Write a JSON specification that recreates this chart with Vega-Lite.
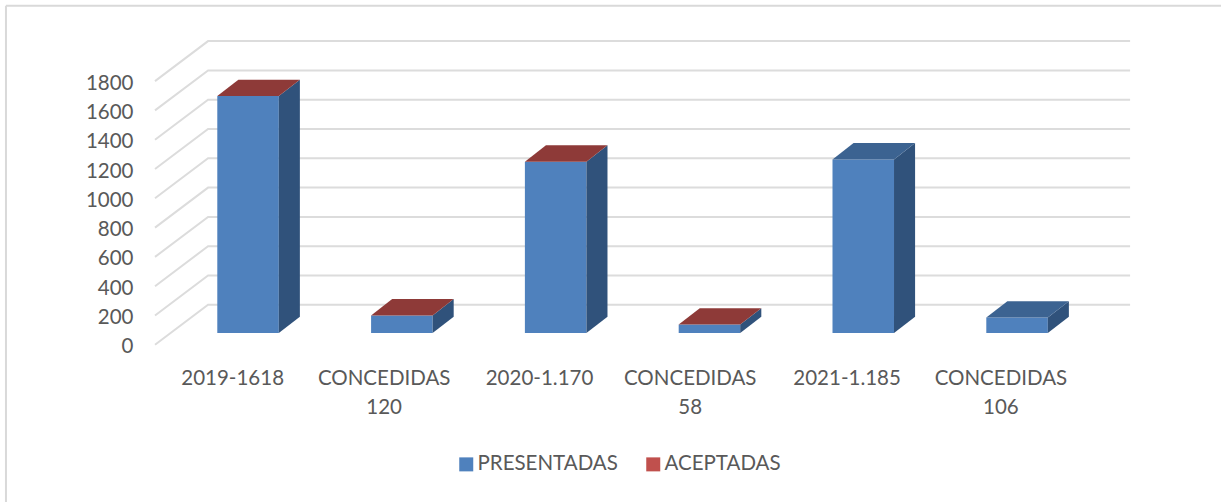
{
"$schema":"https://vega.github.io/schema/vega-lite/v6.json",
"width":1221,"height":502,"padding":0,"autosize":{"type":"none"},
"background":"white",
"config":{"view":{"stroke":null},"font":"Lato"},
"datasets":{
"border":[{"x":-0.969,"x2":-0.969,"y":-1073,"y2":2315},{"x":-0.969,"x2":6.931,"y":2315,"y2":2315}],
"grid":[
{"level":0,"x":0,"y":0},{"level":0,"x":0.345,"y":273},{"level":0,"x":6.34,"y":273},
{"level":200,"x":0,"y":200},{"level":200,"x":0.345,"y":473},{"level":200,"x":6.34,"y":473},
{"level":400,"x":0,"y":400},{"level":400,"x":0.345,"y":673},{"level":400,"x":6.34,"y":673},
{"level":600,"x":0,"y":600},{"level":600,"x":0.345,"y":873},{"level":600,"x":6.34,"y":873},
{"level":800,"x":0,"y":800},{"level":800,"x":0.345,"y":1073},{"level":800,"x":6.34,"y":1073},
{"level":1000,"x":0,"y":1000},{"level":1000,"x":0.345,"y":1273},{"level":1000,"x":6.34,"y":1273},
{"level":1200,"x":0,"y":1200},{"level":1200,"x":0.345,"y":1473},{"level":1200,"x":6.34,"y":1473},
{"level":1400,"x":0,"y":1400},{"level":1400,"x":0.345,"y":1673},{"level":1400,"x":6.34,"y":1673},
{"level":1600,"x":0,"y":1600},{"level":1600,"x":0.345,"y":1873},{"level":1600,"x":6.34,"y":1873},
{"level":1800,"x":0,"y":1800},{"level":1800,"x":0.345,"y":2073},{"level":1800,"x":6.34,"y":2073}
],
"bars":[
{"label":"2019-1618","value":1618,"series":"PRESENTADAS","x":0.405,"x2":0.805,"base":80,"top":1698},
{"label":"CONCEDIDAS 120","value":120,"series":"PRESENTADAS","x":1.405,"x2":1.805,"base":80,"top":200},
{"label":"2020-1.170","value":1170,"series":"PRESENTADAS","x":2.405,"x2":2.805,"base":80,"top":1250},
{"label":"CONCEDIDAS 58","value":58,"series":"PRESENTADAS","x":3.405,"x2":3.805,"base":80,"top":138},
{"label":"2021-1.185","value":1185,"series":"PRESENTADAS","x":4.405,"x2":4.805,"base":80,"top":1265},
{"label":"CONCEDIDAS 106","value":106,"series":"PRESENTADAS","x":5.405,"x2":5.805,"base":80,"top":186}
],
"sides":[
{"bar":"a","x":0.805,"y":80,"y2":1698},{"bar":"a","x":0.942,"y":192,"y2":1810},
{"bar":"b","x":1.805,"y":80,"y2":200},{"bar":"b","x":1.942,"y":192,"y2":312},
{"bar":"c","x":2.805,"y":80,"y2":1250},{"bar":"c","x":2.942,"y":192,"y2":1362},
{"bar":"d","x":3.805,"y":80,"y2":138},{"bar":"d","x":3.942,"y":192,"y2":250},
{"bar":"e","x":4.805,"y":80,"y2":1265},{"bar":"e","x":4.942,"y":192,"y2":1377},
{"bar":"f","x":5.805,"y":80,"y2":186},{"bar":"f","x":5.942,"y":192,"y2":298}
],
"tops":[
{"bar":"a","series":"ACEPTADAS","x":0.405,"y":1698,"y2":1698},{"bar":"a","series":"ACEPTADAS","x":0.542,"y":1698,"y2":1810},{"bar":"a","series":"ACEPTADAS","x":0.805,"y":1698,"y2":1810},{"bar":"a","series":"ACEPTADAS","x":0.942,"y":1810,"y2":1810},
{"bar":"b","series":"ACEPTADAS","x":1.405,"y":200,"y2":200},{"bar":"b","series":"ACEPTADAS","x":1.542,"y":200,"y2":312},{"bar":"b","series":"ACEPTADAS","x":1.805,"y":200,"y2":312},{"bar":"b","series":"ACEPTADAS","x":1.942,"y":312,"y2":312},
{"bar":"c","series":"ACEPTADAS","x":2.405,"y":1250,"y2":1250},{"bar":"c","series":"ACEPTADAS","x":2.542,"y":1250,"y2":1362},{"bar":"c","series":"ACEPTADAS","x":2.805,"y":1250,"y2":1362},{"bar":"c","series":"ACEPTADAS","x":2.942,"y":1362,"y2":1362},
{"bar":"d","series":"ACEPTADAS","x":3.405,"y":138,"y2":138},{"bar":"d","series":"ACEPTADAS","x":3.542,"y":138,"y2":250},{"bar":"d","series":"ACEPTADAS","x":3.805,"y":138,"y2":250},{"bar":"d","series":"ACEPTADAS","x":3.942,"y":250,"y2":250},
{"bar":"e","series":"PRESENTADAS","x":4.405,"y":1265,"y2":1265},{"bar":"e","series":"PRESENTADAS","x":4.542,"y":1265,"y2":1377},{"bar":"e","series":"PRESENTADAS","x":4.805,"y":1265,"y2":1377},{"bar":"e","series":"PRESENTADAS","x":4.942,"y":1377,"y2":1377},
{"bar":"f","series":"PRESENTADAS","x":5.405,"y":186,"y2":186},{"bar":"f","series":"PRESENTADAS","x":5.542,"y":186,"y2":298},{"bar":"f","series":"PRESENTADAS","x":5.805,"y":186,"y2":298},{"bar":"f","series":"PRESENTADAS","x":5.942,"y":298,"y2":298}
],
"cats":[
{"cat":"2019-1618","x":0.505,"y":-163},
{"cat":"CONCEDIDAS\n120","x":1.49,"y":-163},
{"cat":"2020-1.170","x":2.5,"y":-163},
{"cat":"CONCEDIDAS\n58","x":3.48,"y":-163},
{"cat":"2021-1.185","x":4.5,"y":-163},
{"cat":"CONCEDIDAS\n106","x":5.5,"y":-163}
]
},
"layer":[
{"data":{"name":"border"},"mark":{"type":"rule","color":"#d9d9d9","strokeWidth":2},
 "encoding":{
  "x":{"field":"x","type":"quantitative","scale":{"domain":[-1.0078,6.931],"nice":false,"zero":false},"axis":null},
  "x2":{"field":"x2"},
  "y":{"field":"y","type":"quantitative","scale":{"domain":[-1073,2353.6],"nice":false,"zero":false},
   "axis":{"title":null,"values":[0,200,400,600,800,1000,1200,1400,1600,1800],"format":"d","orient":"left","offset":-133,"domain":false,"ticks":false,"grid":false,"labelPadding":0,"labelOffset":2,"labelFontSize":20.5,"labelColor":"#595959","labelFont":"Lato"}},
  "y2":{"field":"y2"}}},
{"data":{"name":"grid"},"mark":{"type":"line","color":"#dcdcdc","strokeWidth":2},
 "encoding":{"x":{"field":"x","type":"quantitative"},"y":{"field":"y","type":"quantitative"},"detail":{"field":"level"}}},
{"data":{"name":"bars"},"mark":{"type":"rect"},
 "encoding":{"x":{"field":"x","type":"quantitative"},"x2":{"field":"x2"},"y":{"field":"base","type":"quantitative"},"y2":{"field":"top"},
  "color":{"field":"series","type":"nominal","scale":{"domain":["PRESENTADAS","ACEPTADAS"],"range":["#4f81bd","#c0504d"]},
   "legend":{"title":null,"orient":"none","direction":"horizontal","legendX":456,"legendY":454,"symbolType":"square","symbolSize":196,"symbolStrokeWidth":0,"symbolOpacity":1,"labelFontSize":20.5,"labelColor":"#595959","labelFont":"Lato","columnPadding":25,"labelOffset":1,"padding":0}}}},
{"data":{"name":"sides"},"mark":{"type":"area","color":"#30527b"},
 "encoding":{"x":{"field":"x","type":"quantitative"},"y":{"field":"y","type":"quantitative","stack":null},"y2":{"field":"y2"},"detail":{"field":"bar"}}},
{"data":{"name":"tops"},"mark":{"type":"area"},
 "encoding":{"x":{"field":"x","type":"quantitative"},"y":{"field":"y","type":"quantitative","stack":null},"y2":{"field":"y2"},"detail":{"field":"bar"},
  "color":{"field":"series","type":"nominal","scale":{"domain":["PRESENTADAS","ACEPTADAS"],"range":["#3c6391","#8e3a38"]},"legend":null}}},
{"data":{"name":"cats"},"mark":{"type":"text","align":"center","baseline":"top","fontSize":20.5,"lineBreak":"\n","lineHeight":29,"color":"#595959","font":"Lato"},
 "encoding":{"x":{"field":"x","type":"quantitative"},"y":{"field":"y","type":"quantitative"},"text":{"field":"cat","type":"nominal"}}}
],
"resolve":{"scale":{"color":"independent"}}
}
